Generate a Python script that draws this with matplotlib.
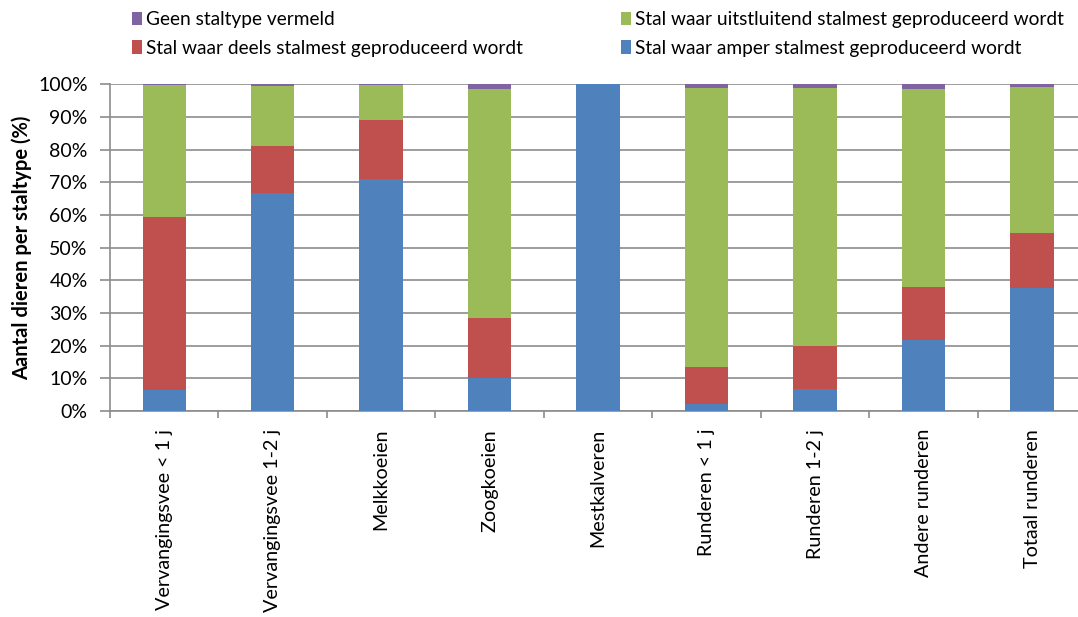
import numpy as np
import matplotlib.pyplot as plt
from matplotlib.ticker import PercentFormatter

plt.rcParams['font.family'] = ['Lato', 'DejaVu Sans']

# categories and shares (%) per staltype
categories = ['Vervangingsvee < 1 j', 'Vervangingsvee 1-2 j', 'Melkkoeien', 'Zoogkoeien',
              'Mestkalveren', 'Runderen < 1 j', 'Runderen 1-2 j', 'Andere runderen', 'Totaal runderen']
amper = [6.5, 66.6, 71.1, 10.1, 100.0, 2.2, 6.6, 21.6, 37.7]
deels = [52.9, 14.5, 17.9, 18.3, 0.0, 11.3, 13.2, 16.2, 16.7]
uitsluitend = [40.4, 18.4, 10.7, 70.2, 0.0, 85.3, 79.1, 60.6, 44.9]
geen = [0.2, 0.5, 0.3, 1.4, 0.0, 1.2, 1.1, 1.6, 0.7]

labels = {
    'geen': 'Geen staltype vermeld',
    'deels': 'Stal waar deels stalmest geproduceerd wordt',
    'uitsluitend': 'Stal waar uitstluitend stalmest geproduceerd wordt',
    'amper': 'Stal waar amper stalmest geproduceerd wordt',
}
colors = {'amper': '#4F81BD', 'deels': '#C0504D', 'uitsluitend': '#9BBB59', 'geen': '#8064A2'}

fig = plt.figure(figsize=(10.78, 6.17), dpi=100)
ax = fig.add_axes([0.102, 0.334, 0.9057, 0.5295])

x = np.arange(len(categories))
w = 0.40
bottom = np.zeros(len(categories))
bars = {}
for key, vals in [('amper', amper), ('deels', deels), ('uitsluitend', uitsluitend), ('geen', geen)]:
    vals = np.array(vals)
    bars[key] = ax.bar(x, vals, w, bottom=bottom, color=colors[key], label=labels[key], zorder=3)
    bottom += vals

ax.set_xlim(-0.5, len(categories) - 0.5)
ax.set_ylim(0, 100)
ax.set_yticks(np.arange(0, 101, 10))
ax.yaxis.set_major_formatter(PercentFormatter(decimals=0))
ax.grid(axis='y', color='#8c8c8c', linewidth=1.2, zorder=0)

ax.set_xticks(x)
ax.set_xticklabels(categories, rotation=90, fontsize=14.2)
ax.tick_params(axis='x', which='major', length=0, pad=13)
ax.set_xticks(np.arange(-0.5, len(categories), 1), minor=True)
ax.tick_params(axis='x', which='minor', length=5, width=1.2, color='#8c8c8c')
ax.tick_params(axis='y', length=7, width=1.2, color='#8c8c8c', labelsize=14, pad=9)

for s in ['top', 'right']:
    ax.spines[s].set_visible(False)
for s in ['left', 'bottom']:
    ax.spines[s].set_color('#8c8c8c')
    ax.spines[s].set_linewidth(1.2)

ax.set_ylabel('Aantal dieren per staltype (%)', fontsize=14.5, fontweight='bold', labelpad=4)

leg_kw = dict(frameon=False, fontsize=13.8, handlelength=0.5, handleheight=0.7,
              handletextpad=0.25, labelspacing=0.62, borderaxespad=0, borderpad=0)
fig.legend([bars['geen'], bars['deels']], [labels['geen'], labels['deels']],
           loc='upper left', bbox_to_anchor=(132 / 1078, 1 - 11 / 617), **leg_kw)
fig.legend([bars['uitsluitend'], bars['amper']], [labels['uitsluitend'], labels['amper']],
           loc='upper left', bbox_to_anchor=(621 / 1078, 1 - 11 / 617), **leg_kw)

fig.savefig('out.png', dpi=100)
